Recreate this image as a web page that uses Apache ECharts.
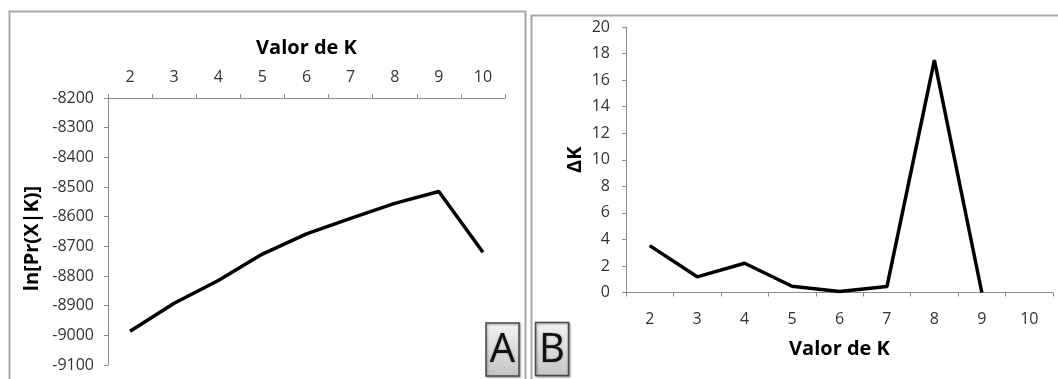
<!DOCTYPE html>
<html>
<head>
<meta charset="utf-8">
<title>Valor de K</title>
<script src="https://cdn.jsdelivr.net/npm/echarts@6/dist/echarts.min.js"></script>
<style>
  html, body { margin: 0; padding: 0; background: #fff; }
  #chart { width: 1058px; height: 379px; }
</style>
</head>
<body>
<div id="chart"></div>
<script>
// K values tested
const kValues = ['2', '3', '4', '5', '6', '7', '8', '9', '10'];
// Mean ln Pr(X|K) for each K
const lnPr = [-8986, -8892, -8815, -8726, -8658, -8606, -8555, -8515, -8720];
// Evanno delta K (no value for the last K)
const deltaK = [3.53, 1.18, 2.2, 0.47, 0.08, 0.45, 17.5, 0, null];
// Panel letters
const panelLetters = ['A', 'B'];

const FONT = 'Open Sans';
const LABEL = '#333';
const AXIS = '#8c8c8c';

const chart = echarts.init(document.getElementById('chart'), null, { renderer: 'canvas' });

function letterBox(letter, x, y) {
  return {
    type: 'group',
    x: x, y: y,
    children: [
      {
        type: 'rect',
        shape: { x: 0, y: 0, width: 33, height: 53 },
        style: {
          fill: new echarts.graphic.LinearGradient(0, 0, 0, 1, [
            { offset: 0, color: '#f4f4f4' },
            { offset: 1, color: '#c4c4c4' }
          ]),
          stroke: '#4a4a4a',
          lineWidth: 1.5,
          shadowBlur: 2,
          shadowColor: 'rgba(0,0,0,0.35)',
          shadowOffsetX: 1,
          shadowOffsetY: 1
        }
      },
      {
        type: 'text',
        x: 16.5, y: 28,
        style: {
          text: letter,
          fontFamily: FONT,
          fontSize: 40,
          fill: '#111',
          align: 'center',
          verticalAlign: 'middle',
          textShadowBlur: 2,
          textShadowColor: 'rgba(0,0,0,0.4)'
        }
      }
    ]
  };
}

const axisCommon = {
  axisLine: { show: true, lineStyle: { color: AXIS, width: 1 } },
  axisTick: { show: true, length: 4, lineStyle: { color: AXIS } },
  splitLine: { show: false },
  axisLabel: { color: LABEL, fontFamily: FONT, fontSize: 16 }
};

const option = {
  animation: false,
  backgroundColor: '#fff',
  grid: [
    { left: 108, top: 98, width: 397, height: 267 },
    { left: 626, top: 27, width: 427, height: 265.5 }
  ],
  xAxis: [
    Object.assign({}, axisCommon, {
      gridIndex: 0, type: 'category', data: kValues, position: 'top',
      boundaryGap: true,
      axisLabel: Object.assign({}, axisCommon.axisLabel, { margin: 13 }),
      name: 'Valor de K', nameLocation: 'middle', nameGap: 40,
      nameTextStyle: { fontFamily: FONT, fontSize: 20, fontWeight: 'bold', color: '#000' }
    }),
    Object.assign({}, axisCommon, {
      gridIndex: 1, type: 'category', data: kValues, position: 'bottom',
      boundaryGap: true,
      axisLabel: Object.assign({}, axisCommon.axisLabel, { margin: 19 }),
      name: 'Valor de K', nameLocation: 'middle', nameGap: 47,
      nameTextStyle: { fontFamily: FONT, fontSize: 20, fontWeight: 'bold', color: '#000' }
    })
  ],
  yAxis: [
    Object.assign({}, axisCommon, {
      gridIndex: 0, type: 'value', min: -9100, max: -8200, interval: 100,
      axisLabel: Object.assign({}, axisCommon.axisLabel, {
        margin: 14,
        formatter: function (v) { return String(v); }
      }),
      name: 'ln[Pr(X|K)]', nameLocation: 'middle', nameGap: 66,
      nameTextStyle: { fontFamily: FONT, fontSize: 20, fontWeight: 'bold', color: '#000', padding: [0, 14, 0, 0] }
    }),
    Object.assign({}, axisCommon, {
      gridIndex: 1, type: 'value', min: 0, max: 20, interval: 2,
      axisLabel: Object.assign({}, axisCommon.axisLabel, { margin: 16 }),
      name: 'ΔK', nameLocation: 'middle', nameGap: 41,
      nameTextStyle: { fontFamily: FONT, fontSize: 20, fontWeight: 'bold', color: '#000' }
    })
  ],
  series: [
    {
      type: 'line', xAxisIndex: 0, yAxisIndex: 0, data: lnPr,
      showSymbol: false, symbol: 'none',
      lineStyle: { color: '#000', width: 3.5 }
    },
    {
      type: 'line', xAxisIndex: 1, yAxisIndex: 1, data: deltaK,
      showSymbol: false, symbol: 'none', connectNulls: false,
      lineStyle: { color: '#000', width: 3.5 }
    }
  ],
  graphic: [
    // panel frames
    { type: 'rect', silent: true, shape: { x: 9.5, y: 11.5, width: 516, height: 380 },
      style: { fill: 'none', stroke: '#a8a8a8', lineWidth: 2 } },
    { type: 'rect', silent: true, shape: { x: 531.5, y: 15.5, width: 540, height: 380 },
      style: { fill: 'none', stroke: '#a8a8a8', lineWidth: 2 } },
    letterBox(panelLetters[0], 486, 323),
    letterBox(panelLetters[1], 535.5, 322.5)
  ]
};

chart.setOption(option);
</script>
</body>
</html>
